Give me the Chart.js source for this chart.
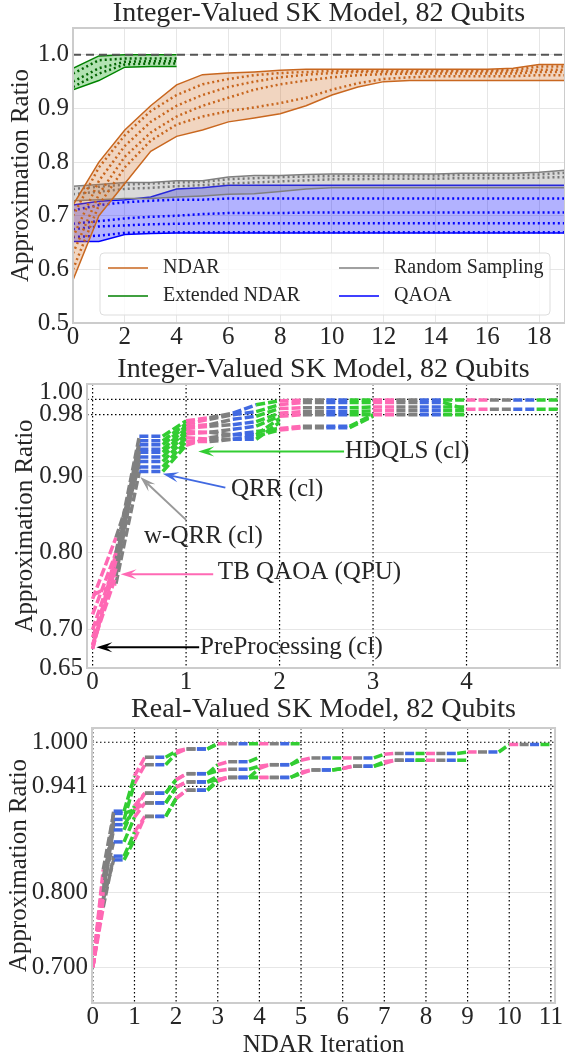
<!doctype html>
<html>
<head>
<title>NDAR approximation ratio, 82 qubits</title>
<script src="https://cdn.jsdelivr.net/npm/chart.js@4.4.1/dist/chart.umd.min.js"></script>
<style>
  body { margin: 0; background: #fff; }
  .box { position: absolute; left: 0; width: 565px; }
</style>
</head>
<body>
<div class="box" style="top:0;height:350px"><canvas id="top"></canvas></div>
<div class="box" style="top:350px;height:345px"><canvas id="mid"></canvas></div>
<div class="box" style="top:695px;height:364px"><canvas id="bot"></canvas></div>
<script>
// ---------- top panel: NDAR iteration vs approximation ratio ----------
const TOP_ITER = [0,1,2,3,4,5,6,7,8,9,10,11,12,13,14,15,16,17,18,19];
const NDAR_HI = [0.72,0.80,0.86,0.905,0.944,0.963,0.966,0.968,0.971,0.973,0.973,0.973,0.973,0.973,0.973,0.973,0.973,0.975,0.982,0.982];
const NDAR_LO = [0.58,0.70,0.76,0.82,0.848,0.86,0.875,0.882,0.89,0.905,0.925,0.94,0.95,0.952,0.952,0.952,0.952,0.952,0.952,0.952];
const NDAR_RUNS = [
  [0.70,0.79,0.85,0.895,0.925,0.945,0.955,0.962,0.966,0.968,0.970,0.970,0.971,0.971,0.971,0.971,0.971,0.972,0.978,0.978],
  [0.66,0.765,0.83,0.875,0.905,0.925,0.94,0.95,0.958,0.963,0.966,0.968,0.968,0.968,0.969,0.969,0.969,0.969,0.972,0.972],
  [0.63,0.74,0.81,0.855,0.885,0.905,0.92,0.935,0.945,0.952,0.958,0.962,0.964,0.965,0.965,0.965,0.965,0.965,0.968,0.968],
  [0.60,0.72,0.79,0.84,0.87,0.885,0.895,0.902,0.91,0.92,0.935,0.947,0.955,0.958,0.96,0.96,0.96,0.96,0.962,0.962]
];
const EXT_ITER = [0,1,2,3,4];
const EXT_HI = [0.975,0.998,1.0,1.0,1.0];
const EXT_LO = [0.935,0.952,0.977,0.978,0.978];
const EXT_RUNS = [
  [0.965,0.99,0.993,0.993,0.993],
  [0.95,0.975,0.987,0.988,0.988],
  [0.94,0.965,0.982,0.984,0.984]
];
const RS_HI = [0.755,0.758,0.762,0.762,0.765,0.765,0.772,0.775,0.775,0.777,0.778,0.778,0.778,0.778,0.778,0.779,0.779,0.779,0.781,0.785];
const RS_LO = [0.728,0.730,0.732,0.732,0.735,0.737,0.740,0.741,0.745,0.750,0.752,0.752,0.752,0.752,0.752,0.752,0.752,0.752,0.752,0.752];
const RS_RUNS = [
  [0.750,0.754,0.758,0.760,0.762,0.763,0.768,0.770,0.772,0.773,0.774,0.774,0.775,0.775,0.775,0.776,0.776,0.776,0.777,0.780],
  [0.740,0.745,0.750,0.752,0.755,0.757,0.760,0.762,0.764,0.766,0.768,0.768,0.769,0.769,0.769,0.770,0.770,0.770,0.771,0.772]
];
const QAOA_HI = [0.72,0.727,0.73,0.735,0.75,0.752,0.757,0.757,0.757,0.757,0.757,0.757,0.757,0.757,0.757,0.757,0.757,0.757,0.757,0.757];
const QAOA_LO = [0.652,0.652,0.665,0.667,0.668,0.668,0.668,0.668,0.668,0.668,0.668,0.668,0.668,0.668,0.668,0.668,0.668,0.668,0.668,0.668];
const QAOA_RUNS = [
  [0.71,0.72,0.725,0.728,0.73,0.73,0.732,0.732,0.732,0.732,0.732,0.732,0.732,0.732,0.732,0.732,0.732,0.732,0.732,0.732],
  [0.685,0.69,0.695,0.698,0.70,0.703,0.705,0.705,0.705,0.706,0.706,0.706,0.706,0.706,0.706,0.706,0.706,0.706,0.706,0.706],
  [0.675,0.68,0.682,0.684,0.685,0.686,0.686,0.686,0.686,0.686,0.686,0.686,0.686,0.686,0.686,0.686,0.686,0.686,0.686,0.686],
  [0.66,0.663,0.668,0.669,0.669,0.669,0.669,0.669,0.669,0.669,0.669,0.669,0.669,0.669,0.669,0.669,0.669,0.669,0.669,0.669]
];
const OPTIMUM = 1.0;
const TOP_X_TICKS = [0,2,4,6,8,10,12,14,16,18];
const TOP_Y_TICKS = [0.5,0.6,0.7,0.8,0.9,1.0];
const TOP_Y_LABELS = ['0.5','0.6','0.7','0.8','0.9','1.0'];
const LEGEND_ITEMS = [
  {label: 'NDAR', color: '#c8661e'},
  {label: 'Extended NDAR', color: '#008000'},
  {label: 'Random Sampling', color: '#808080'},
  {label: 'QAOA', color: '#0000ff'}
];

// ---------- middle / bottom panels: one value per quarter step ----------
// sub-steps of every NDAR iteration: TB QAOA, w-QRR, QRR, HDQLS
const STEP_COLORS = ['#ff69b4', '#808080', '#4169e1', '#32cd32'];
const STEPS_PER_ITER = 4;
const MID_RUNS = [
  [0.675,0.80,0.952,0.952, 0.972,0.976,0.982,0.993, 0.998,0.999,0.999,0.999, 0.999,0.999,0.999,0.999, 0.999,0.999,0.999,0.999, 0.999],
  [0.675,0.79,0.946,0.946, 0.968,0.974,0.980,0.984, 0.993,0.996,0.996,0.996, 0.996,0.996,0.996,0.996, 0.987,0.987,0.987,0.987, 0.987],
  [0.68,0.78,0.941,0.941, 0.965,0.967,0.974,0.978, 0.988,0.989,0.989,0.989, 0.990,0.990,0.990,0.990, 0.990],
  [0.68,0.77,0.935,0.935, 0.962,0.965,0.967,0.971, 0.982,0.984,0.984,0.984, 0.985,0.985,0.985,0.985, 0.985],
  [0.69,0.78,0.931,0.931, 0.958,0.957,0.961,0.965, 0.978,0.980,0.980,0.980, 0.980,0.980,0.980,0.980, 0.980],
  [0.70,0.79,0.925,0.925, 0.955,0.957,0.954,0.958, 0.962,0.965,0.965,0.965, 0.980],
  [0.72,0.80,0.919,0.919, 0.950,0.948,0.948,0.952, 0.960,0.963,0.963,0.963, 0.978],
  [0.74,0.82,0.912,0.912, 0.945,0.945,0.948,0.948, 0.970],
  [0.745,0.76,0.906,0.906, 0.940,0.950,0.954,0.954, 0.975]
];
const MID_X_TICKS = [0,1,2,3,4];
const MID_Y_TICKS = [0.65,0.70,0.80,0.90,0.98,1.00];
const MID_Y_LABELS = ['0.65','0.70','0.80','0.90','0.98',['1.00','']];
const MID_VLINES = [0,1,2,3,4,4.97];
const MID_HLINES = [0.98,1.00];
const MID_NOTES = [
  {text: 'HDQLS (cl)', color: '#32cd32', tx: 2.70, ty: 0.932, ax: 2.69, ay: 0.932, hx: 1.13, hy: 0.932},
  {text: 'QRR (cl)', color: '#4169e1', tx: 1.48, ty: 0.882, ax: 1.42, ay: 0.885, hx: 0.75, hy: 0.903},
  {text: 'w-QRR (cl)', color: '#999999', tx: 0.55, ty: 0.821, ax: 1.00, ay: 0.843, hx: 0.51, hy: 0.899},
  {text: 'TB QAOA (QPU)', color: '#ff69b4', tx: 1.34, ty: 0.774, ax: 1.29, ay: 0.772, hx: 0.30, hy: 0.772},
  {text: 'PreProcessing (cl)', color: '#000000', tx: 1.15, ty: 0.677, ax: 1.14, ay: 0.677, hx: 0.04, hy: 0.677}
];

const BOT_RUNS = [
  [0.70,0.80,0.908,0.908, 0.955,0.980,0.980,0.980, 0.988,0.991,0.991,0.991, 0.998,0.998,0.998,0.998, 0.998,0.998,0.998,0.998, 0.998],
  [0.70,0.79,0.897,0.897, 0.945,0.970,0.970,0.970, 0.985,0.991,0.991,0.991, 0.998],
  [0.70,0.82,0.883,0.883, 0.915,0.932,0.932,0.932, 0.950,0.958,0.958,0.958, 0.962,0.964,0.964,0.964, 0.968,0.970,0.970,0.970,
   0.976,0.979,0.979,0.979, 0.979,0.979,0.979,0.979, 0.984,0.985,0.985,0.985, 0.985,0.985,0.985,0.985, 0.987,0.987,0.987,0.987,
   0.997,0.997,0.997,0.997, 0.997],
  [0.70,0.81,0.867,0.867, 0.900,0.919,0.919,0.919, 0.940,0.947,0.947,0.947, 0.950,0.953,0.953,0.953, 0.953,0.953,0.953,0.953,
   0.960,0.963,0.963,0.963, 0.965,0.968,0.968,0.968, 0.974,0.976,0.976,0.976, 0.976,0.976,0.976,0.976, 0.976],
  [0.70,0.78,0.848,0.848, 0.880,0.901,0.901,0.901, 0.925,0.936,0.936,0.936, 0.948,0.953,0.953,0.953, 0.953,0.953,0.953,0.953,
   0.958,0.963,0.963,0.963, 0.965,0.968,0.968,0.968, 0.972,0.976,0.976,0.976, 0.976],
  [0.70,0.79,0.843,0.843, 0.870,0.901,0.901,0.901, 0.925,0.936,0.936,0.936, 0.950,0.953,0.953,0.953, 0.965,0.970,0.970,0.970, 0.979],
  [0.70,0.80,0.890,0.890, 0.910,0.932,0.932,0.932, 0.950,0.958,0.958,0.958, 0.970,0.974,0.974,0.974, 0.980],
  [0.70,0.83,0.905,0.905, 0.910,0.919,0.919,0.919, 0.940,0.947,0.947,0.947, 0.955]
];
const BOT_X_TICKS = [0,1,2,3,4,5,6,7,8,9,10,11];
const BOT_Y_TICKS = [0.700,0.800,0.941,1.000];
const BOT_Y_LABELS = ['0.700','0.800','0.941','1.000'];
const BOT_VLINES = [0,1,2,3,4,5,6,7,8,9,10,11];
const BOT_HLINES = [0.941,1.000];

// ---------- shared look ----------
const SERIF = '"Liberation Serif", "DejaVu Serif", serif';
Chart.defaults.font.family = SERIF;
Chart.defaults.color = '#262626';
const LIGHT = '#e6e6e6';

function pts(xs, ys) { return ys.map((y, i) => ({x: xs[i], y})); }

function band(hi, lo, xs, color, fillColor) {
  return [
    {data: pts(xs, hi), borderColor: color, borderWidth: 1.5, backgroundColor: fillColor, fill: '+1', pointRadius: 0},
    {data: pts(xs, lo), borderColor: color, borderWidth: 1.5, fill: false, pointRadius: 0}
  ];
}
function dotted(runs, xs, color) {
  return runs.map(r => ({data: pts(xs, r), borderColor: color, borderWidth: 2.5, borderDash: [2, 3],
    fill: false, pointRadius: 0}));
}
function stepRuns(runs) {
  return runs.map(r => ({
    data: r.map((y, i) => ({x: i / STEPS_PER_ITER, y})),
    borderWidth: 3.5, borderDash: [9, 3], fill: false, pointRadius: 0,
    borderColor: STEP_COLORS[0],
    segment: {borderColor: c => STEP_COLORS[c.p0DataIndex % STEPS_PER_ITER]}
  }));
}

function arrow(ctx, x1, y1, x2, y2, color) {
  const ang = Math.atan2(y2 - y1, x2 - x1), L = 16, W = 5;
  ctx.strokeStyle = color; ctx.fillStyle = color; ctx.lineWidth = 2;
  ctx.beginPath(); ctx.moveTo(x1, y1);
  ctx.lineTo(x2 - Math.cos(ang) * L * 0.6, y2 - Math.sin(ang) * L * 0.6); ctx.stroke();
  ctx.beginPath();
  ctx.moveTo(x2, y2);
  ctx.lineTo(x2 - L * Math.cos(ang) + W * Math.sin(ang), y2 - L * Math.sin(ang) - W * Math.cos(ang));
  ctx.lineTo(x2 - L * 0.6 * Math.cos(ang), y2 - L * 0.6 * Math.sin(ang));
  ctx.lineTo(x2 - L * Math.cos(ang) - W * Math.sin(ang), y2 - L * Math.sin(ang) + W * Math.cos(ang));
  ctx.closePath(); ctx.fill();
}

function decor(opt) {
  return {
    id: 'decor',
    beforeDatasetsDraw(chart) {
      const {ctx, chartArea: a, scales: {x, y}} = chart;
      ctx.save();
      ctx.strokeStyle = '#000'; ctx.lineWidth = 1.2; ctx.setLineDash([1.5, 2.5]);
      (opt.vlines || []).forEach(v => {
        const p = x.getPixelForValue(v);
        ctx.beginPath(); ctx.moveTo(p, a.top); ctx.lineTo(p, a.bottom); ctx.stroke();
      });
      (opt.hlines || []).forEach(v => {
        const p = y.getPixelForValue(v);
        ctx.beginPath(); ctx.moveTo(a.left, p); ctx.lineTo(a.right, p); ctx.stroke();
      });
      ctx.restore();
    },
    afterDatasetsDraw(chart) {
      const {ctx, chartArea: a, scales: {x, y}} = chart;
      ctx.save();
      if (opt.optimum !== undefined) {
        const p = y.getPixelForValue(opt.optimum);
        ctx.strokeStyle = '#555'; ctx.lineWidth = 2; ctx.setLineDash([8, 5]);
        ctx.beginPath(); ctx.moveTo(a.left, p); ctx.lineTo(a.right, p); ctx.stroke();
        ctx.setLineDash([]);
      }
      ctx.strokeStyle = '#cccccc'; ctx.lineWidth = 2;
      ctx.strokeRect(a.left, a.top, a.right - a.left, a.bottom - a.top);

      (opt.notes || []).forEach(n => {
        arrow(ctx, x.getPixelForValue(n.ax), y.getPixelForValue(n.ay),
          x.getPixelForValue(n.hx), y.getPixelForValue(n.hy), n.color);
        ctx.fillStyle = '#262626'; ctx.font = '25px ' + SERIF;
        ctx.textAlign = 'left'; ctx.textBaseline = 'middle';
        ctx.fillText(n.text, x.getPixelForValue(n.tx), y.getPixelForValue(n.ty));
      });

      if (opt.legend) {
        const left = a.left + 27, top = a.bottom - 70;
        ctx.fillStyle = 'rgba(255,255,255,0.8)'; ctx.strokeStyle = '#dddddd'; ctx.lineWidth = 1;
        ctx.beginPath(); ctx.roundRect(left, top, 450, 62, 4); ctx.fill(); ctx.stroke();
        ctx.font = '20px ' + SERIF; ctx.textAlign = 'left'; ctx.textBaseline = 'middle';
        opt.legend.forEach((it, i) => {
          const lx = left + 8 + Math.floor(i / 2) * 231, ly = top + 15 + (i % 2) * 28;
          ctx.strokeStyle = it.color; ctx.lineWidth = 1.5;
          ctx.beginPath(); ctx.moveTo(lx, ly); ctx.lineTo(lx + 40, ly); ctx.stroke();
          ctx.fillStyle = '#262626'; ctx.fillText(it.label, lx + 55, ly);
        });
      }
      ctx.restore();
    }
  };
}

function title(text, top, bottom) {
  return {display: true, text, fullSize: false, color: '#262626',
    font: {size: 28, weight: 'normal', lineHeight: 1}, padding: {top, bottom}};
}
function yTitle(pad) {
  return {display: true, text: 'Approximation Ratio', color: '#262626',
    font: {size: 25, lineHeight: 1.2}, padding: {top: pad, bottom: 0}};
}
function gridFor(dotted) {
  return {color: c => dotted.includes(c.tick && c.tick.value) ? 'rgba(0,0,0,0)' : LIGHT, drawTicks: false};
}
const X_TICK_FONT = {size: 25, lineHeight: 1};

// ---------- top chart ----------
new Chart(document.getElementById('top'), {
  type: 'line',
  data: {datasets: [
    ...dotted(EXT_RUNS, EXT_ITER, '#006400'),
    ...band(EXT_HI, EXT_LO, EXT_ITER, '#008000', 'rgba(0,160,0,0.3)'),
    ...dotted(NDAR_RUNS, TOP_ITER, '#c8661e'),
    ...band(NDAR_HI, NDAR_LO, TOP_ITER, '#c8661e', 'rgba(210,115,45,0.3)'),
    ...dotted(RS_RUNS, TOP_ITER, '#777777'),
    ...band(RS_HI, RS_LO, TOP_ITER, '#808080', 'rgba(128,128,128,0.3)'),
    ...dotted(QAOA_RUNS, TOP_ITER, '#0000ff'),
    ...band(QAOA_HI, QAOA_LO, TOP_ITER, '#0000ff', 'rgba(0,0,255,0.3)')
  ]},
  options: {
    responsive: true, maintainAspectRatio: false, animation: false,
    layout: {padding: {left: 0, right: 0, top: 0, bottom: 0}},
    plugins: {legend: {display: false}, tooltip: {enabled: false},
      title: title('Integer-Valued SK Model, 82 Qubits', 0, 0)},
    scales: {
      x: {type: 'linear', min: 0, max: 19,
        afterBuildTicks: s => { s.ticks = TOP_X_TICKS.map(v => ({value: v})); },
        ticks: {font: X_TICK_FONT, padding: 2, maxRotation: 0, autoSkip: false},
        grid: {color: LIGHT, drawTicks: false}, border: {display: false},
        afterFit: s => { s.height = 27; }},
      y: {min: 0.5, max: 1.05,
        afterBuildTicks: s => { s.ticks = TOP_Y_TICKS.map(v => ({value: v})); },
        ticks: {font: {size: 25}, padding: 4, callback: (v, i) => TOP_Y_LABELS[i]},
        grid: {color: LIGHT, drawTicks: false}, border: {display: false},
        title: yTitle(6),
        afterFit: s => { s.width = 73; }}
    }
  },
  plugins: [decor({optimum: OPTIMUM, legend: LEGEND_ITEMS})]
});

// ---------- middle chart ----------
new Chart(document.getElementById('mid'), {
  type: 'line',
  data: {datasets: stepRuns(MID_RUNS)},
  options: {
    responsive: true, maintainAspectRatio: false, animation: false,
    layout: {padding: {left: 0, right: 5, top: 0, bottom: 0}},
    plugins: {legend: {display: false}, tooltip: {enabled: false},
      title: title('Integer-Valued SK Model, 82 Qubits', 6, 0)},
    scales: {
      x: {type: 'linear', min: -0.06, max: 5.0,
        afterBuildTicks: s => { s.ticks = MID_X_TICKS.map(v => ({value: v})); },
        ticks: {font: X_TICK_FONT, padding: 2, maxRotation: 0, autoSkip: false},
        grid: {display: false, drawTicks: false}, border: {display: false},
        afterFit: s => { s.height = 27; }},
      y: {min: 0.65, max: 1.02,
        afterBuildTicks: s => { s.ticks = MID_Y_TICKS.map(v => ({value: v})); },
        ticks: {font: {size: 25, lineHeight: 0.56}, padding: 4, callback: (v, i) => MID_Y_LABELS[i]},
        grid: gridFor(MID_HLINES), border: {display: false},
        title: yTitle(10),
        afterFit: s => { s.width = 87; }}
    }
  },
  plugins: [decor({vlines: MID_VLINES, hlines: MID_HLINES, notes: MID_NOTES})]
});

// ---------- bottom chart ----------
new Chart(document.getElementById('bot'), {
  type: 'line',
  data: {datasets: stepRuns(BOT_RUNS)},
  options: {
    responsive: true, maintainAspectRatio: false, animation: false,
    layout: {padding: {left: 0, right: 8, top: 0, bottom: 0}},
    plugins: {legend: {display: false}, tooltip: {enabled: false},
      title: title('Real-Valued SK Model, 82 Qubits', 1, 4)},
    scales: {
      x: {type: 'linear', min: -0.02, max: 11.1,
        afterBuildTicks: s => { s.ticks = BOT_X_TICKS.map(v => ({value: v})); },
        ticks: {font: X_TICK_FONT, padding: 2, maxRotation: 0, autoSkip: false},
        grid: {display: false, drawTicks: false}, border: {display: false},
        title: {display: true, text: 'NDAR Iteration', color: '#262626',
          font: {size: 25, lineHeight: 1}, padding: {top: 0, bottom: 1}},
        afterFit: s => { s.height = 56; }},
      y: {min: 0.652, max: 1.019,
        afterBuildTicks: s => { s.ticks = BOT_Y_TICKS.map(v => ({value: v})); },
        ticks: {font: {size: 25}, padding: 4, callback: (v, i) => BOT_Y_LABELS[i]},
        grid: gridFor(BOT_HLINES), border: {display: false},
        title: yTitle(4),
        afterFit: s => { s.width = 92; }}
    }
  },
  plugins: [decor({vlines: BOT_VLINES, hlines: BOT_HLINES})]
});
</script>
</body>
</html>
